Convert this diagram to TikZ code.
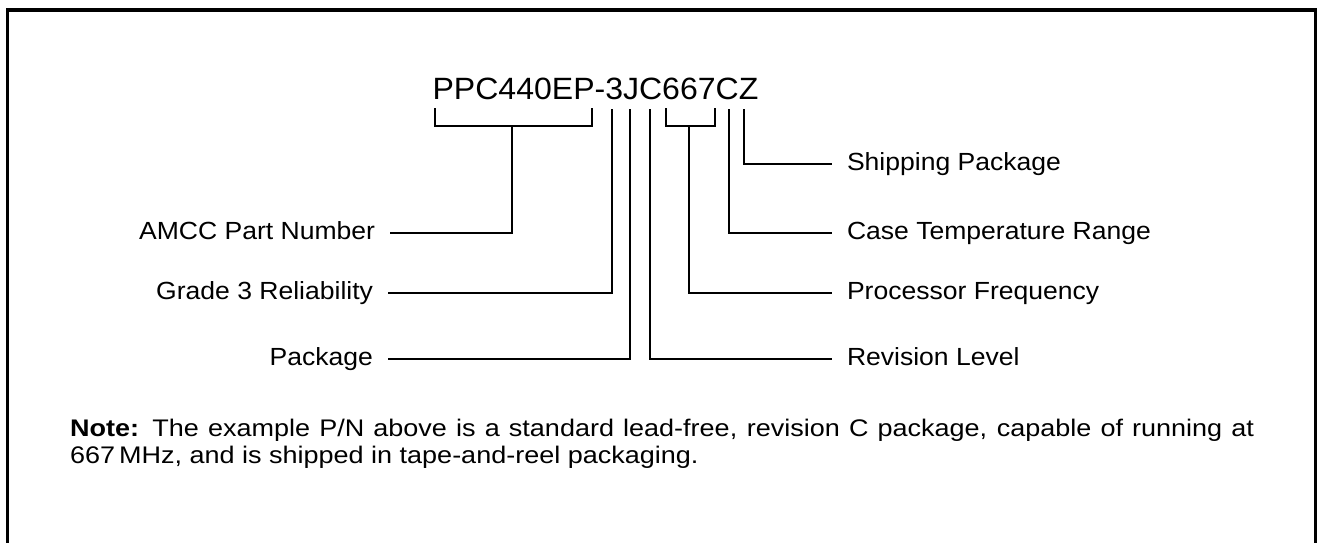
\documentclass[tikz,border=0pt]{standalone}
\usepackage{fontspec}
\setmainfont{Liberation Sans}
\newfontfamily\pnfont[FakeStretch=1.04]{Liberation Sans}
\newfontfamily\lblfont[FakeStretch=1.07]{Liberation Sans}
\newfontfamily\notefont[FakeStretch=1.125]{Liberation Sans}

\begin{document}
\begin{tikzpicture}[x=0.5pt,y=-0.5pt,line width=1.1pt,
                    lbl/.style={inner sep=0pt,outer sep=7.5pt,text height=0.8em,
                                text depth=0.18em,font=\lblfont\fontsize{12.4}{15}\selectfont},
                    frame/.style={line width=1.65pt}]
        \useasboundingbox (0,0) rectangle (1317,542);
        \draw[frame] (7.7,550) |- (1315.7,10) -- (1315.7,550);

        \node[inner sep=0pt,anchor=base,font=\pnfont\fontsize{15.4}{18}\selectfont] (pn) at (595.5,99.3) {PPC440EP-3JC667CZ};

        \coordinate (amccL) at (435,108);
        \coordinate (amccR) at (592,108);
        \coordinate (amccS) at (512,126);
        \coordinate (grade) at (612,109);
        \coordinate (pkg)   at (630,109);
        \coordinate (rev)   at (650,109);
        \coordinate (freqL) at (666,108);
        \coordinate (freqR) at (715,108);
        \coordinate (freqS) at (689,126);
        \coordinate (temp)  at (729,109);
        \coordinate (ship)  at (744,109);

        \node[lbl,anchor=east] (amccT)  at (390,233) {AMCC Part Number};
        \node[lbl,anchor=east] (gradeT) at (388,293) {Grade 3 Reliability};
        \node[lbl,anchor=east] (pkgT)   at (388,359) {Package};
        \node[lbl,anchor=west] (shipT)  at (832,164) {Shipping Package};
        \node[lbl,anchor=west] (tempT)  at (832,233) {Case Temperature Range};
        \node[lbl,anchor=west] (freqT)  at (832,293) {Processor Frequency};
        \node[lbl,anchor=west] (revT)   at (832,359) {Revision Level};

        \draw (amccL) |- (amccR |- amccS) -- (amccR);
        \draw (amccS) |- (amccT);
        \draw (grade) |- (gradeT);
        \draw (pkg)   |- (pkgT);
        \draw (rev)   |- (revT);
        \draw (freqL) |- (freqR |- freqS) -- (freqR);
        \draw (freqS) |- (freqT);
        \draw (temp)  |- (tempT);
        \draw (ship)  |- (shipT);

        \node[anchor=base west,inner sep=0pt,text width=592pt,align=justify,
              font=\notefont\fontsize{12}{13.5}\selectfont] (note) at (69,436)
             {\textbf{Note:} The example P/N above is a standard lead-free, revision C package, capable of running at 667\,MHz, and is shipped in tape-and-reel packaging.};
      \end{tikzpicture}
\end{document}
